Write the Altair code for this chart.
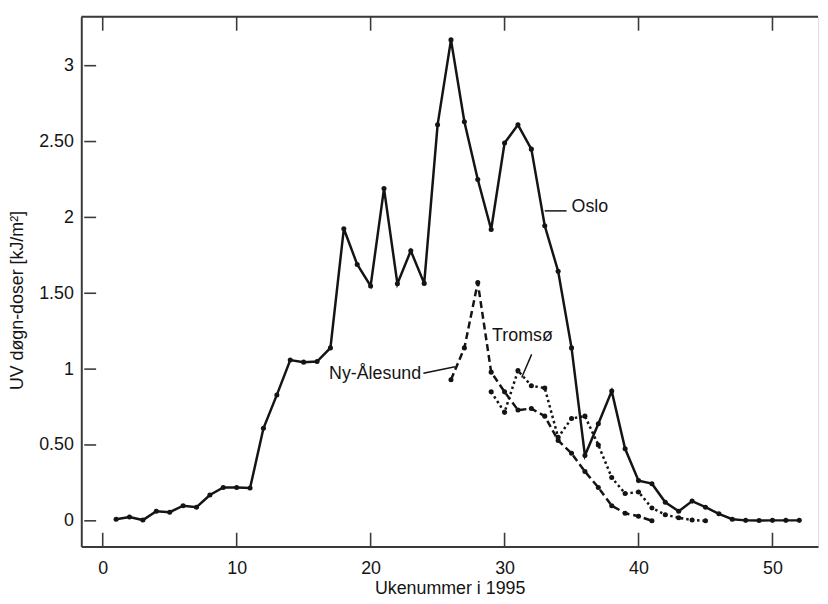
import altair as alt
import pandas as pd

# ---------------- data ----------------
oslo_weeks = list(range(1, 53))
oslo_uv = [0.01, 0.025, 0.005, 0.063, 0.057, 0.10, 0.09, 0.17, 0.22, 0.22,
           0.216, 0.61, 0.83, 1.06, 1.046, 1.05, 1.14, 1.925, 1.69, 1.548,
           2.19, 1.563, 1.78, 1.565, 2.61, 3.17, 2.63, 2.25, 1.92, 2.49,
           2.61, 2.45, 1.945, 1.645, 1.14, 0.43, 0.64, 0.855, 0.475, 0.265,
           0.245, 0.122, 0.063, 0.13, 0.09, 0.046, 0.011, 0.003, 0.002, 0.003,
           0.003, 0.003]

ny_weeks = list(range(26, 42))
ny_uv = [0.93, 1.14, 1.57, 0.98, 0.85, 0.73, 0.74, 0.69, 0.53, 0.445,
         0.325, 0.22, 0.10, 0.05, 0.03, 0.0]

tromso_weeks = list(range(29, 46))
tromso_uv = [0.85, 0.715, 0.99, 0.89, 0.875, 0.55, 0.675, 0.69, 0.50, 0.285,
             0.18, 0.19, 0.085, 0.04, 0.02, 0.005, 0.0]

y_ticks = [0, 0.5, 1, 1.5, 2, 2.5, 3]
x_ticks = [0, 10, 20, 30, 40, 50]

# annotations (data coordinates)
label_names = ["Oslo", "Tromsø", "Ny-Ålesund"]
label_weeks = [35.0, 29.07, 23.77]
label_uv = [2.07, 1.22, 0.966]
leader_w1 = [33.0, 32.02, 23.94]
leader_v1 = [2.043, 1.097, 0.973]
leader_w2 = [34.63, 31.28, 26.30]
leader_v2 = [2.043, 0.945, 1.016]

# ---------------- layout ----------------
W, H = 744, 535
X_DOMAIN = [-1.6, 53.4]
Y_DOMAIN = [-0.17, 3.322]
FONT = "Liberation Sans"
INK = "#141414"
AXC = "#3a3a3a"
FS = 18

xs = alt.Scale(domain=X_DOMAIN, nice=False, zero=False)
ys = alt.Scale(domain=Y_DOMAIN, nice=False, zero=False)

x_axis = alt.Axis(values=x_ticks, ticks=False, tickSize=0, grid=False,
                  domainColor=AXC, domainWidth=2, labelPadding=13,
                  labelFontSize=FS, labelFont=FONT, labelColor=INK,
                  title="Ukenummer i 1995", titleFont=FONT, titleFontSize=FS,
                  titleFontWeight="normal", titleColor=INK,
                  titleBaseline="middle", titleY=42, titleX=W / 2)
y_axis = alt.Axis(values=y_ticks, ticks=False, tickSize=0, grid=False,
                  domainColor=AXC, domainWidth=2, labelPadding=8,
                  labelFontSize=FS, labelFont=FONT, labelColor=INK,
                  labelExpr="datum.value % 1 == 0 ? format(datum.value, 'd') : format(datum.value, '.2f')",
                  title="UV døgn-doser [kJ/m²]", titleFont=FONT,
                  titleFontSize=FS, titleFontWeight="normal", titleColor=INK,
                  titleAngle=-90, titleBaseline="middle", titleAlign="center",
                  titleX=-64, titleY=286)

X = lambda: alt.X("week:Q", scale=xs, axis=x_axis)
Y = lambda: alt.Y("uv:Q", scale=ys, axis=y_axis)

oslo_df = pd.DataFrame({"week": oslo_weeks, "uv": oslo_uv})
ny_df = pd.DataFrame({"week": ny_weeks, "uv": ny_uv})
tr_df = pd.DataFrame({"week": tromso_weeks, "uv": tromso_uv})

def series(df, dash):
    kw = dict(color=INK, strokeWidth=2.5)
    if dash:
        kw["strokeDash"] = dash
    line = alt.Chart(df).mark_line(**kw).encode(x=X(), y=Y())
    pts = alt.Chart(df).mark_circle(color=INK, size=26, opacity=1).encode(x=X(), y=Y())
    return line + pts

oslo = series(oslo_df, None)
ny = series(ny_df, [7, 4])
tr = series(tr_df, [2.5, 3])

# inward tick marks
ytick_df = pd.DataFrame({"uv": y_ticks})
xtick_df = pd.DataFrame({"week": x_ticks})
yt = alt.Chart(ytick_df).mark_rule(color=AXC, strokeWidth=1.6).encode(
    y=Y(), x=alt.value(3), x2=alt.value(15))
xt_bottom = alt.Chart(xtick_df).mark_rule(color=AXC, strokeWidth=1.6).encode(
    x=X(), y=alt.value(H - 14), y2=alt.value(H))
xt_top = alt.Chart(xtick_df).mark_rule(color=AXC, strokeWidth=1.6).encode(
    x=X(), y=alt.value(0), y2=alt.value(14))
top_line = alt.Chart(pd.DataFrame({"a": [0]})).mark_rule(color=AXC, strokeWidth=2).encode(
    x=alt.value(0), x2=alt.value(W), y=alt.value(0))

# annotations
lab_df = pd.DataFrame({"week": label_weeks, "uv": label_uv, "name": label_names})
lead_df = pd.DataFrame({"week": leader_w1, "uv": leader_v1,
                        "week2": leader_w2, "uv2": leader_v2})
leaders = alt.Chart(lead_df).mark_rule(color=INK, strokeWidth=1.5).encode(
    x=X(), y=Y(), x2="week2:Q", y2="uv2:Q")
txt_left = alt.Chart(lab_df[lab_df["name"] != "Ny-Ålesund"]).mark_text(
    align="left", baseline="middle", font=FONT, fontSize=FS, color=INK).encode(
    x=X(), y=Y(), text="name:N")
txt_right = alt.Chart(lab_df[lab_df["name"] == "Ny-Ålesund"]).mark_text(
    align="right", baseline="middle", font=FONT, fontSize=FS, color=INK).encode(
    x=X(), y=Y(), text="name:N")

chart = alt.layer(
    top_line, xt_bottom, xt_top, yt, oslo, ny, tr, leaders, txt_left, txt_right
).properties(
    width=W, height=H,
    autosize=alt.AutoSizeParams(type="none"),
    padding={"left": 74, "top": 6, "right": 2, "bottom": 53},
).configure_view(stroke=None).configure(background="white")

chart.save("out.html", embed_options={"renderer": "svg", "actions": False})
